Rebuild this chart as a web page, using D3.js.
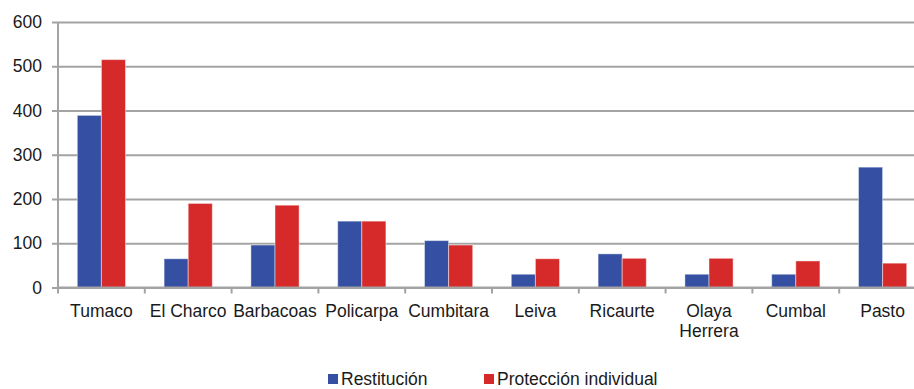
<!DOCTYPE html>
<html>
<head>
<meta charset="utf-8">
<script src="https://cdn.jsdelivr.net/npm/d3@7"></script>
<style>
  html, body { margin: 0; padding: 0; background: #ffffff; }
  svg { display: block; }
  text { font-family: "Liberation Sans", Arial, sans-serif; fill: #1a1a1a; }
</style>
</head>
<body>
<svg id="chart" width="914" height="389"></svg>
<script>
// Municipalities and their counts by type of measure
const categories = ["Tumaco", "El Charco", "Barbacoas", "Policarpa", "Cumbitara", "Leiva", "Ricaurte", "Olaya\nHerrera", "Cumbal", "Pasto"];
const restitucion = [389, 65, 96, 150, 106, 30, 76, 30, 30, 272];
const proteccion = [515, 190, 186, 150, 96, 65, 66, 66, 60, 55];
const seriesNames = ["Restitución", "Protección individual"];
const seriesColors = ["#3550a3", "#d62a2a"];
const yTicks = [0, 100, 200, 300, 400, 500, 600];

const svg = d3.select("#chart");
const margin = { top: 22, left: 58, bottom: 102 };
const plotRight = 926;
const plotBottom = 389 - margin.bottom + 0.5;
const fontSize = "17.5px";

const x = d3.scaleBand().domain(categories).range([margin.left, plotRight]).paddingInner(0).paddingOuter(0);
const x1 = d3.scaleBand().domain(seriesNames).range([0, x.bandwidth()]).paddingInner(0).paddingOuter(0.8);
const y = d3.scaleLinear().domain([0, 600]).range([plotBottom, margin.top]);

const gridColor = "#a3a3a3";

// Horizontal gridlines with outward ticks
const yAxis = svg.append("g")
  .attr("transform", `translate(${margin.left},0)`)
  .call(d3.axisLeft(y).tickValues(yTicks).tickSize(6).tickPadding(10));
yAxis.select(".domain").remove();
yAxis.selectAll(".tick line").attr("stroke", gridColor).attr("stroke-width", 2);
yAxis.selectAll(".tick").append("line")
  .attr("x1", 0).attr("x2", plotRight - margin.left)
  .attr("stroke", gridColor).attr("stroke-width", 2);
yAxis.selectAll(".tick text")
  .style("font-size", fontSize).style("font-family", "'Liberation Sans', Arial, sans-serif").attr("fill", "#1a1a1a");

// Bars
const groups = svg.append("g").selectAll("g")
  .data(categories)
  .join("g")
  .attr("transform", d => `translate(${x(d)},0)`);

groups.selectAll("rect")
  .data((d, i) => [restitucion[i], proteccion[i]].map((v, j) => ({ key: seriesNames[j], value: v, color: seriesColors[j] })))
  .join("rect")
  .attr("x", d => x1(d.key))
  .attr("width", x1.bandwidth())
  .attr("y", d => y(d.value))
  .attr("height", d => y(0) - y(d.value))
  .attr("fill", d => d.color)
  .attr("stroke", "rgba(255,255,255,0.45)")
  .attr("stroke-width", 1);

// Vertical axis line
svg.append("line")
  .attr("x1", margin.left).attr("x2", margin.left)
  .attr("y1", margin.top).attr("y2", plotBottom + 6)
  .attr("stroke", gridColor).attr("stroke-width", 2);

// Baseline and category ticks
svg.append("line")
  .attr("x1", margin.left).attr("x2", plotRight)
  .attr("y1", plotBottom).attr("y2", plotBottom)
  .attr("stroke", gridColor).attr("stroke-width", 2);
svg.append("g").selectAll("line")
  .data(categories.slice(1))
  .join("line")
  .attr("x1", d => x(d)).attr("x2", d => x(d))
  .attr("y1", plotBottom).attr("y2", plotBottom + 6)
  .attr("stroke", gridColor).attr("stroke-width", 2);

// Category labels (multi-line where needed)
const labels = svg.append("g").selectAll("text")
  .data(categories)
  .join("text")
  .attr("text-anchor", "middle")
  .attr("x", d => x(d) + x.bandwidth() / 2)
  .attr("y", plotBottom + 29)
  .style("font-size", fontSize);
labels.selectAll("tspan")
  .data(d => d.split("\n"))
  .join("tspan")
  .attr("x", function () { return d3.select(this.parentNode).attr("x"); })
  .attr("dy", (d, i) => i === 0 ? 0 : 20)
  .text(d => d);

// Legend
const legendItems = [{ name: seriesNames[0], color: seriesColors[0], x: 328 }, { name: seriesNames[1], color: seriesColors[1], x: 484 }];
const legend = svg.append("g").selectAll("g")
  .data(legendItems)
  .join("g")
  .attr("transform", d => `translate(${d.x},374)`);
legend.append("rect").attr("width", 10).attr("height", 10).attr("fill", d => d.color);
legend.append("text").attr("x", 13).attr("y", 11).style("font-size", fontSize).text(d => d.name);
</script>
</body>
</html>
